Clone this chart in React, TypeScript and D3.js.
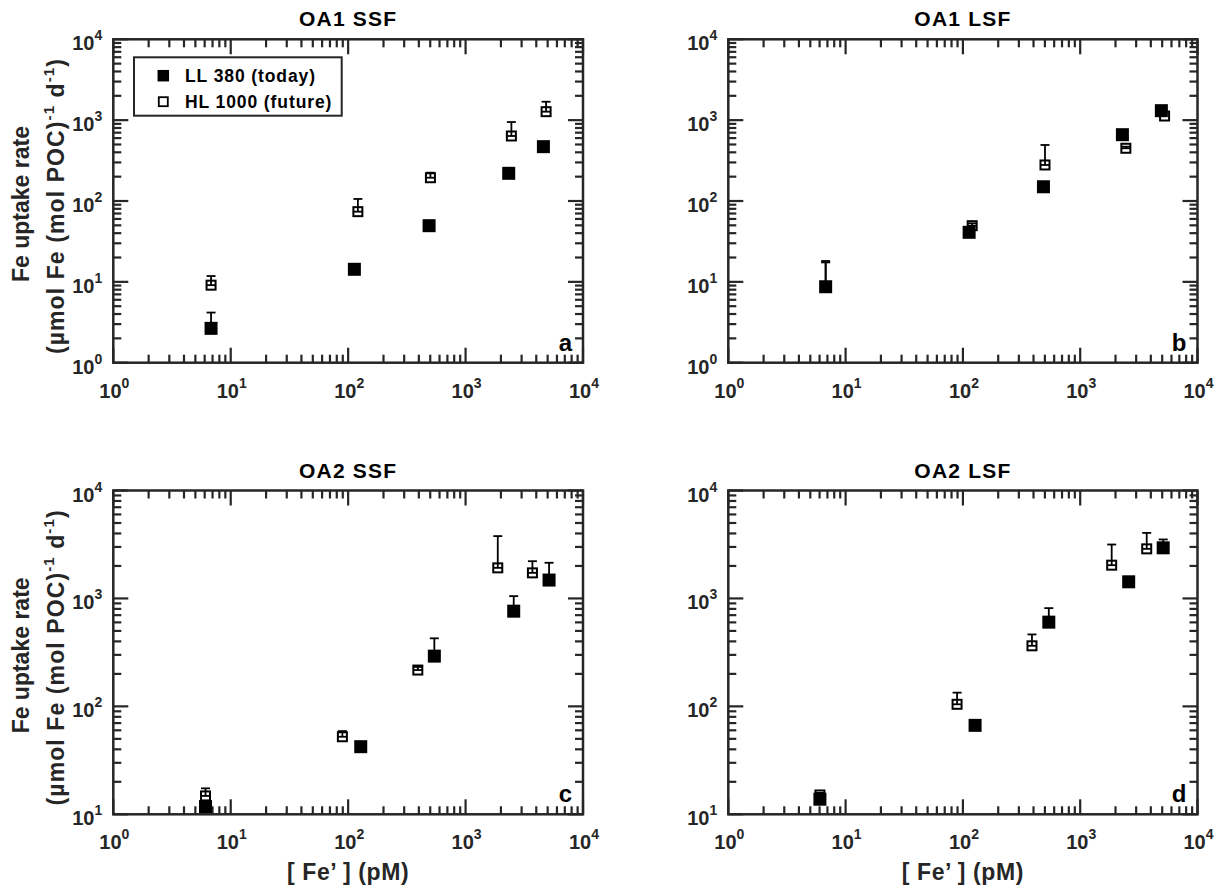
import React from "react";
import * as d3 from "d3";

// ---------- data ----------
const panelLetters = ["a", "b", "c", "d"];
const panelTitles = ["OA1 SSF", "OA1 LSF", "OA2 SSF", "OA2 LSF"];
const xDecades = [0, 1, 2, 3, 4];
const yDecadesTop = [0, 1, 2, 3, 4];
const yDecadesBottom = [1, 2, 3, 4];
const legendLabels = ["LL 380 (today)", "HL 1000 (future)"];

// panel a  (OA1 SSF)
const aLLx = [6.8, 113, 489, 2330, 4600];
const aLLy = [2.66, 14.3, 49.5, 220, 470];
const aLLup = [4.17, null, null, null, null];
const aHLx = [6.8, 121, 502, 2455, 4850];
const aHLy = [9.1, 73.8, 194, 637, 1273];
const aHLup = [11.8, 106, 224, 948, 1690];

// panel b  (OA1 LSF)
const bLLx = [6.76, 113, 486, 2290, 4920];
const bLLy = [8.7, 41, 150, 661, 1310];
const bLLup = [18.1, null, null, null, null];
const bHLx = [6.76, 120, 501, 2450, 5240];
const bHLy = [8.7, 49.5, 279, 449, 1125];
const bHLup = [17.4, 53, 493, 470, null];

// panel c  (OA2 SSF)
const cLLx = [6.1, 128, 542, 2570, 5140];
const cLLy = [11.8, 42.3, 292, 762, 1480];
const cLLup = [null, null, 427, 1050, 2140];
const cHLx = [6.1, 89.3, 392, 1880, 3710];
const cHLy = [14.8, 52.3, 217, 1920, 1726];
const cHLup = [17.4, 59, 232, 3780, 2213];

// panel d  (OA2 LSF)
const dLLx = [6.04, 127, 540, 2590, 5100];
const dLLy = [13.8, 66.7, 603, 1426, 2944];
const dLLup = [null, null, 813, null, 3520];
const dHLx = [6.04, 89.2, 388, 1855, 3690];
const dHLy = [15.1, 104.5, 364, 2033, 2880];
const dHLup = [15.8, 134, 464, 3160, 4050];

const LL = [
  { x: aLLx, y: aLLy, up: aLLup },
  { x: bLLx, y: bLLy, up: bLLup },
  { x: cLLx, y: cLLy, up: cLLup },
  { x: dLLx, y: dLLy, up: dLLup },
];
const HL = [
  { x: aHLx, y: aHLy, up: aHLup },
  { x: bHLx, y: bHLy, up: bHLup },
  { x: cHLx, y: cHLy, up: cHLup },
  { x: dHLx, y: dHLy, up: dHLup },
];

// ---------- layout ----------
const FONT = "'Liberation Sans', Arial, Helvetica, sans-serif";
const INK = "#262626";
const colLeft = [113.3, 728.3];
const colRight = [583, 1197.5];
const rowTop = [39.3, 490.5];
const rowBottom = [362.7, 814.3];

function Panel({ idx }: { idx: number }) {
  const col = idx % 2;
  const row = Math.floor(idx / 2);
  const L = colLeft[col], R = colRight[col], T = rowTop[row], B = rowBottom[row];
  const yDec = row === 0 ? yDecadesTop : yDecadesBottom;
  const x = d3.scaleLog().domain([10 ** xDecades[0], 10 ** xDecades[xDecades.length - 1]]).range([L, R]);
  const y = d3.scaleLog().domain([10 ** yDec[0], 10 ** yDec[yDec.length - 1]]).range([B, T]);

  const ticksFor = (decs: number[]) => {
    const out: { v: number; major: boolean }[] = [];
    decs.forEach((d, i) => {
      out.push({ v: 10 ** d, major: true });
      if (i < decs.length - 1) for (let m = 2; m <= 9; m++) out.push({ v: m * 10 ** d, major: false });
    });
    return out;
  };
  const xt = ticksFor(xDecades);
  const yt = ticksFor(yDec);
  const MAJ = 15, MIN = 8;
  const cx = (L + R) / 2;
  const cy = (T + B) / 2;

  const errBars = (s: { x: number[]; y: number[]; up: (number | null)[] }) =>
    s.x.map((xv, i) => {
      const u = s.up[i];
      if (u == null) return null;
      const px = x(xv), py = y(s.y[i]), pu = y(u);
      return (
        <g key={"e" + i} stroke="#000" strokeWidth={1.8}>
          <line x1={px} x2={px} y1={py} y2={pu} />
          <line x1={px - 4.5} x2={px + 4.5} y1={pu} y2={pu} />
          <line x1={px - 4.5} x2={px + 4.5} y1={py} y2={py} />
        </g>
      );
    });

  const hl = HL[idx];
  const ll = LL[idx];

  return (
    <g>
      {/* title */}
      <text x={cx} y={T - 13} textAnchor="middle" fontSize={21} fontWeight="bold" letterSpacing={1.2} fontFamily={FONT} fill="#000">
        {panelTitles[idx]}
      </text>
      {/* frame */}
      <rect x={L} y={T} width={R - L} height={B - T} fill="none" stroke={INK} strokeWidth={2.5} />
      {/* ticks */}
      <g stroke={INK} strokeWidth={2.2}>
        {xt.map((t, i) => {
          const px = x(t.v);
          const len = t.major ? MAJ : MIN;
          return (
            <g key={"xt" + i}>
              <line x1={px} x2={px} y1={B} y2={B - len} />
              <line x1={px} x2={px} y1={T} y2={T + len} />
            </g>
          );
        })}
        {yt.map((t, i) => {
          const py = y(t.v);
          const len = t.major ? MAJ : MIN;
          return (
            <g key={"yt" + i}>
              <line x1={L} x2={L + len} y1={py} y2={py} />
              <line x1={R} x2={R - len} y1={py} y2={py} />
            </g>
          );
        })}
      </g>
      {/* tick labels */}
      <g fontFamily={FONT} fontWeight="bold" fontSize={20} fill={INK}>
        {xDecades.map((d) => (
          <text key={"xl" + d} x={x(10 ** d) + 1} y={B + 35} textAnchor="middle">
            10<tspan dy={-10} fontSize={14}>{d}</tspan>
          </text>
        ))}
        {yDec.map((d) => (
          <text key={"yl" + d} x={L - 11} y={y(10 ** d) + 11} textAnchor="end">
            10<tspan dy={-10} fontSize={14}>{d}</tspan>
          </text>
        ))}
      </g>
      {/* panel letter */}
      <text x={R - 11} y={B - 12} textAnchor="end" fontSize={24} fontWeight="bold" fontFamily={FONT} fill="#000">
        {panelLetters[idx]}
      </text>
      {/* y label on left column */}
      {col === 0 && (
        <g fontFamily={FONT} fontWeight="bold" fontSize={23} fill={INK}>
          <text transform={`translate(${29},${cy + 3}) rotate(-90)`} textAnchor="middle">
            Fe uptake rate
          </text>
          <text transform={`translate(${63.5},${cy + 5}) rotate(-90)`} textAnchor="middle" letterSpacing={1.1}>
            (µmol Fe (mol POC)<tspan dy={-10} fontSize={15}>-1</tspan>
            <tspan dy={10}> d</tspan>
            <tspan dy={-10} fontSize={15}>-1</tspan>
            <tspan dy={10}>)</tspan>
          </text>
        </g>
      )}
      {/* x label on bottom row */}
      {row === 1 && (
        <text x={cx} y={880} textAnchor="middle" fontFamily={FONT} fontWeight="bold" fontSize={23} letterSpacing={0.6} fill={INK}>
          [ Fe’ ] (pM)
        </text>
      )}
      {/* HL (open) */}
      {errBars(hl)}
      {hl.x.map((xv, i) => (
        <rect key={"h" + i} x={x(xv) - 4.5} y={y(hl.y[i]) - 4.5} width={9} height={9} fill="none" stroke="#000" strokeWidth={2} />
      ))}
      {/* LL (filled) */}
      {errBars(ll)}
      {ll.x.map((xv, i) => (
        <rect key={"l" + i} x={x(xv) - 5.5} y={y(ll.y[i]) - 5.5} width={11} height={11} fill="#000" stroke="#000" strokeWidth={2} />
      ))}
      {/* legend */}
      {idx === 0 && (
        <g>
          <rect x={134} y={57.3} width={207.7} height={58.4} fill="#fff" stroke={INK} strokeWidth={2} />
          <rect x={163.3 - 5} y={75.7 - 5} width={10} height={10} fill="#000" stroke="#000" strokeWidth={1.5} />
          <rect x={163.3 - 4.5} y={101.7 - 4.5} width={9} height={9} fill="none" stroke="#000" strokeWidth={1.8} />
          <g fontFamily={FONT} fontWeight="bold" fontSize={17.5} letterSpacing={0.9} fill="#000">
            <text x={185} y={82}>{legendLabels[0]}</text>
            <text x={185} y={107.5}>{legendLabels[1]}</text>
          </g>
        </g>
      )}
    </g>
  );
}

export default function App() {
  return (
    <svg
      width={1225}
      height={895}
      viewBox="0 0 1225 895"
      style={{ position: "absolute", left: 0, top: 0, background: "#fff" }}
    >
      <rect x={0} y={0} width={1225} height={895} fill="#fff" />
      {[0, 1, 2, 3].map((i) => (
        <Panel key={i} idx={i} />
      ))}
    </svg>
  );
}
